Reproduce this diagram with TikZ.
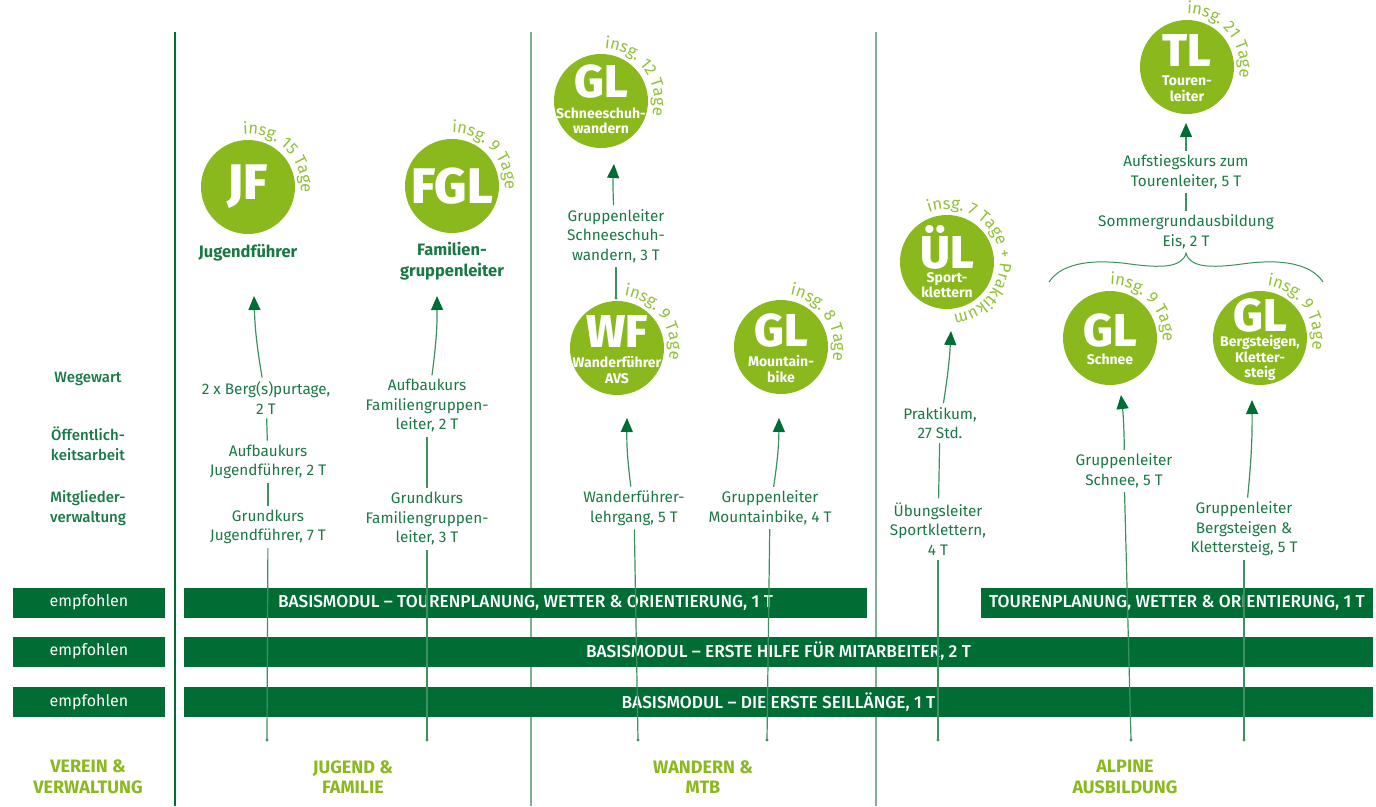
\documentclass[tikz,border=0pt]{standalone}
\usepackage{fontspec}
\setmainfont{Fira Sans}
\newfontfamily\medfont{Fira Sans Medium}
\newfontfamily\heavyfont{Fira Sans ExtraBold}
\usetikzlibrary{arrows.meta,decorations.text,calc}
\definecolor{dg}{RGB}{0,110,52}
\definecolor{tg}{RGB}{25,120,68}
\definecolor{lg}{RGB}{138,185,30}
\definecolor{lgt}{RGB}{145,193,55}
\definecolor{ln}{RGB}{60,145,95}
\definecolor{sepc}{RGB}{125,175,145}
\newcommand\myfs[2]{\fontsize{#1}{#2}\selectfont}
\newcommand\myarc{\myfs{16.5}{17}\color{lgt}}
\newcommand\insg[4]{\path[decorate,decoration={text along path,text align=left,text={|\myarc|#4}}] (#1,#2) ++(#3:53) arc[start angle=#3,end angle=#3-240,radius=53];}
\begin{document}
\begin{tikzpicture}[x=1pt,y=1pt,
  course/.style={text=tg,align=center,font=\myfs{15.3}{19.5},inner sep=4pt},
  side/.style={text=tg,align=center,font=\medfont\myfs{15}{19.5}},
  title/.style={text=tg,align=center,font=\bfseries\myfs{16.5}{21}},
  cat/.style={text=lg,align=center,font=\bfseries\myfs{18}{20.5}},
  circ/.style={circle,fill=lg,minimum size=94,inner sep=0},
  big/.style={text=white,font=\heavyfont\myfs{46}{46},inner sep=0},
  huge/.style={text=white,font=\heavyfont\myfs{50}{50},inner sep=0},
  sub/.style={text=white,align=center,font=\bfseries\myfs{14}{15.5},inner sep=0},
  barbox/.style={fill=dg,text=white,minimum height=30,inner sep=0},
  bartext/.style={font=\medfont\myfs{17.3}{18}},
  emptext/.style={font=\myfs{16}{18}},
  con/.style={draw=ln,line width=1.2},
  arr/.style={draw=ln,line width=1.2,-{Triangle[length=14,width=12,color=dg]}},
  sepl/.style={draw=sepc,line width=1.3}]
\useasboundingbox (0,0) rectangle (1376,-806);

% separators
\coordinate (s1t) at (175,-32); \coordinate (s1b) at (175,-806);
\coordinate (s2t) at (531,-32); \coordinate (s2b) at (531,-806);
\coordinate (s3t) at (876,-32); \coordinate (s3b) at (876,-806);
\draw[draw=dg,line width=2.2] (s1t) -- (s1b);
\draw[sepl] (s2t) -- (s2b);
\draw[sepl] (s3t) -- (s3b);

% left column labels
\node[side] (ww) at (88,-379) {Wegewart};
\node[side] (oa) at (88,-444) {Öffentlich-\\keitsarbeit};
\node[side] (mv) at (88,-508) {Mitglieder-\\verwaltung};

% bars
\node[barbox,minimum width=152,emptext] (e1) at (89,-602.5) {empfohlen};
\node[barbox,minimum width=152,emptext] (e2) at (89,-651.5) {empfohlen};
\node[barbox,minimum width=152,emptext] (e3) at (89,-702) {empfohlen};
\node[barbox,minimum width=683,bartext] (b1) at (525.5,-602.5) {BASISMODUL – TOURENPLANUNG, WETTER \& ORIENTIERUNG, 1 T};
\node[barbox,minimum width=392,bartext] (b1r) at (1177,-602.5) {TOURENPLANUNG, WETTER \& ORIENTIERUNG, 1 T};
\node[barbox,minimum width=1189,bartext] (b2) at (778.5,-651.5) {BASISMODUL – ERSTE HILFE FÜR MITARBEITER, 2 T};
\node[barbox,minimum width=1189,bartext] (b3) at (778.5,-702) {BASISMODUL – DIE ERSTE SEILLÄNGE, 1 T};

% categories
\node[cat] (c1) at (88,-777) {VEREIN \&\\VERWALTUNG};
\node[cat] (c2) at (353,-777) {JUGEND \&\\FAMILIE};
\node[cat] (c3) at (703,-777) {WANDERN \&\\MTB};
\node[cat] (c4) at (1125,-777) {ALPINE\\AUSBILDUNG};

% ---------- JF column
\node[circ] (jf) at (248,-187) {};
\node[huge] (jft) at (248,-187) {JF};
\insg{248}{-187}{95}{insg. 15 Tage}
\node[title] (jfl) at (248,-253) {Jugendführer};
\node[course] (jf3) at (266,-398) {2 x Berg(s)purtage,\\2 T};
\node[course] (jf2) at (268,-462) {Aufbaukurs\\Jugendführer, 2 T};
\node[course] (jf1) at (268,-527) {Grundkurs\\Jugendführer, 7 T};
\coordinate (jfb) at (267,-740);
\coordinate (jftip) at (254,-296);
\draw[con] (jfb) -- (jf1);
\draw[con] (jf1) -- (jf2);
\draw[con] (jf2) -- (jf3);
\draw[arr] (jf3) to[bend left=4] (jftip);
\fill[ln] (jfb) circle (1.7);

% ---------- FGL column
\node[circ] (fgl) at (452,-186) {};
\node[huge] (fglt) at (452,-186) {FGL};
\insg{452}{-186}{90}{insg. 9 Tage}
\node[title] (fgll) at (452,-261) {Familien-\\gruppenleiter};
\node[course] (fg2) at (427,-406) {Aufbaukurs\\Familiengruppen-\\leiter, 2 T};
\node[course] (fg1) at (427,-519) {Grundkurs\\Familiengruppen-\\leiter, 3 T};
\coordinate (fgb) at (427,-740);
\coordinate (fgtip) at (437,-296);
\draw[con] (fgb) -- (fg1);
\draw[con] (fg1) -- (fg2);
\draw[arr] (fg2) to[bend right=4] (fgtip);
\fill[ln] (fgb) circle (1.7);

% ---------- Wandern
\node[circ] (glsw) at (601,-101) {};
\node[big] (glswt) at (601,-82) {GL};
\node[sub] (glsws) at (601,-121) {Schneeschuh-\\wandern};
\insg{601}{-101}{86}{insg. 12 Tage}
\node[course] (sw1) at (616,-236) {Gruppenleiter\\Schneeschuh-\\wandern, 3 T};
\coordinate (swb) at (616,-298);
\coordinate (swtip) at (614,-164);
\draw[con] (swb) -- (sw1);
\draw[arr] (sw1) to[bend left=3] (swtip);
\fill[ln] (swb) circle (1.7);

\node[circ] (wf) at (617,-348) {};
\node[big] (wft) at (617,-332) {WF};
\node[sub] (wfs) at (617,-370) {Wanderführer\\AVS};
\insg{617}{-348}{82}{insg. 9 Tage}
\node[course] (wf1) at (634,-508) {Wanderführer-\\lehrgang, 5 T};
\coordinate (wfb) at (638,-740);
\coordinate (wftip) at (627,-418);
\draw[con] (wfb) -- (wf1);
\draw[arr] (wf1) to[bend left=4] (wftip);
\fill[ln] (wfb) circle (1.7);

\node[circ] (mtb) at (781,-347) {};
\node[big] (mtbt) at (781,-331) {GL};
\node[sub] (mtbs) at (781,-369) {Mountain-\\bike};
\insg{781}{-347}{80}{insg. 8 Tage}
\node[course] (mtb1) at (770,-508) {Gruppenleiter\\Mountainbike, 4 T};
\coordinate (mtbb) at (767,-740);
\coordinate (mtbtip) at (779,-418);
\draw[con] (mtbb) -- (mtb1);
\draw[arr] (mtb1) to[bend right=4] (mtbtip);
\fill[ln] (mtbb) circle (1.7);

% ---------- Alpine
\node[circ] (ul) at (947,-262) {};
\node[big] (ult) at (947,-247) {ÜL};
\node[sub] (uls) at (947,-285) {Sport-\\klettern};
\insg{947}{-262}{110}{insg. 7 Tage + Praktikum}
\node[course] (ul2) at (940,-423) {Praktikum,\\27 Std.};
\node[course] (ul1) at (938,-529) {Übungsleiter\\Sportklettern,\\4 T};
\coordinate (ulb) at (938,-740);
\coordinate (ultip) at (951,-331);
\draw[con] (ulb) -- (ul1);
\draw[con] (ul1) -- (ul2);
\draw[arr] (ul2) to[bend right=3] (ultip);
\fill[ln] (ulb) circle (1.7);

\node[circ] (tl) at (1187,-67) {};
\node[big] (tlt) at (1187,-51) {TL};
\node[sub] (tls) at (1187,-89) {Touren-\\leiter};
\insg{1187}{-67}{90}{insg. 21 Tage}
\node[course] (tl2) at (1186,-172) {Aufstiegskurs zum\\Tourenleiter, 5 T};
\node[course] (tl1) at (1186,-232) {Sommergrundausbildung\\Eis, 2 T};
\coordinate (tltip) at (1186,-123);
\draw[con] (tl1) -- (tl2);
\draw[arr] (tl2) -- (tltip);
\coordinate (brl) at (1049,-282);
\coordinate (brr) at (1323,-282);
\draw[con,line width=1] (brl) .. controls (1062,-262) and (1095,-259) .. (1130,-264)
   .. controls (1160,-268) and (1182,-268) .. (tl1.south)
   .. controls (1190,-268) and (1212,-268) .. (1242,-264)
   .. controls (1277,-259) and (1310,-262) .. (brr);

\node[circ] (gls) at (1110,-338) {};
\node[big] (glst) at (1110,-331) {GL};
\node[sub] (glss) at (1110,-359) {Schnee};
\insg{1110}{-338}{90}{insg. 9 Tage}
\node[course] (gls1) at (1124,-471) {Gruppenleiter\\Schnee, 5 T};
\coordinate (glsb) at (1131,-740);
\coordinate (glstip) at (1121,-395);
\draw[con] (glsb) -- (gls1);
\draw[arr] (gls1) to[bend right=3] (glstip);
\fill[ln] (glsb) circle (1.7);

\node[circ] (glb) at (1260,-338) {};
\node[big] (glbt) at (1260,-316) {GL};
\node[sub] (glbs) at (1260,-358) {Bergsteigen,\\Kletter-\\steig};
\insg{1260}{-338}{82}{insg. 9 Tage}
\node[course] (glb1) at (1244,-529) {Gruppenleiter\\Bergsteigen \&\\Klettersteig, 5 T};
\coordinate (glbb) at (1244,-740);
\coordinate (glbtip) at (1252,-400);
\draw[con] (glbb) -- (glb1);
\draw[arr] (glb1) to[bend right=3] (glbtip);
\fill[ln] (glbb) circle (1.7);
\end{tikzpicture}
\end{document}
